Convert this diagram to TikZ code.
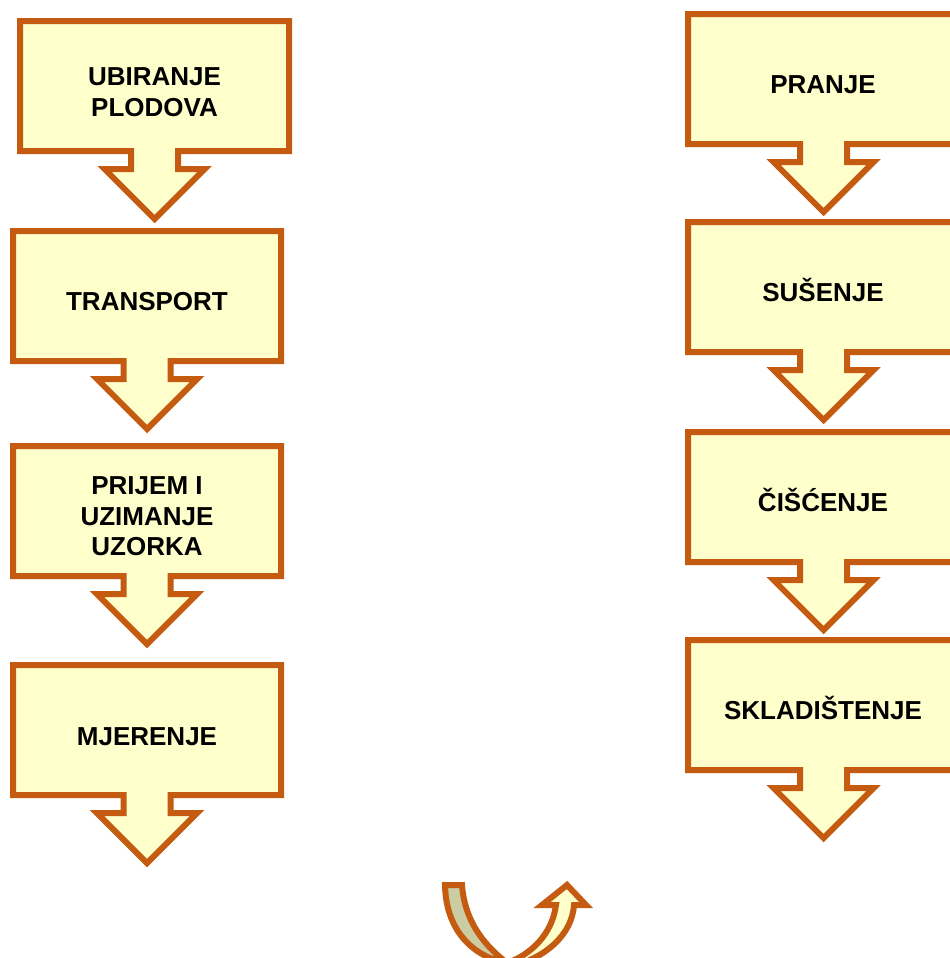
\documentclass[tikz,border=0pt]{standalone}
\usepackage{fontspec}
\setmainfont{Liberation Sans}

\definecolor{rust}{RGB}{197,90,17}
\definecolor{cream}{RGB}{255,255,204}
\definecolor{khaki}{RGB}{204,204,163}

\begin{document}
\begin{tikzpicture}[x=0.75pt,y=-0.75pt,
  stepshape/.style={draw=rust,fill=cream,line width=4.5pt},
  steptext/.style={font=\fontsize{19.5}{23}\selectfont\bfseries,align=center}]
  \useasboundingbox (0,0) rectangle (950,958);
  \clip (0,0) rectangle (950,958);

  % Left column of boxes
  \filldraw[stepshape] (20,21) -- (289,21) -- (289,151) -- (178,151) -- (178,169) -- (204.5,169) -- (154.5,219) -- (104.5,169) -- (131,169) -- (131,151) -- (20,151) -- cycle;
  \filldraw[stepshape] (13,231) -- (281,231) -- (281,361) -- (170.5,361) -- (170.5,379) -- (197,379) -- (147,429) -- (97,379) -- (123.5,379) -- (123.5,361) -- (13,361) -- cycle;
  \filldraw[stepshape] (13,446) -- (281,446) -- (281,576) -- (170.5,576) -- (170.5,594) -- (197,594) -- (147,644) -- (97,594) -- (123.5,594) -- (123.5,576) -- (13,576) -- cycle;
  \filldraw[stepshape] (13,665) -- (281,665) -- (281,795) -- (170.5,795) -- (170.5,813) -- (197,813) -- (147,863) -- (97,813) -- (123.5,813) -- (123.5,795) -- (13,795) -- cycle;

  \node[steptext] (ubiranje) at (154.5,92) {UBIRANJE\\PLODOVA};
  \node[steptext,anchor=base] (transport) at (147,310) {TRANSPORT};
  \node[steptext] (prijem) at (147,516.5) {PRIJEM I\\UZIMANJE\\UZORKA};
  \node[steptext,anchor=base] (mjerenje) at (147,745) {MJERENJE};

  % Right column of boxes
  \filldraw[stepshape] (688,14) -- (960,14) -- (960,144) -- (847,144) -- (847,162) -- (873.5,162) -- (823.5,212) -- (773.5,162) -- (800,162) -- (800,144) -- (688,144) -- cycle;
  \filldraw[stepshape] (688,222) -- (960,222) -- (960,352) -- (847,352) -- (847,370) -- (873.5,370) -- (823.5,420) -- (773.5,370) -- (800,370) -- (800,352) -- (688,352) -- cycle;
  \filldraw[stepshape] (688,432) -- (960,432) -- (960,562) -- (847,562) -- (847,580) -- (873.5,580) -- (823.5,630) -- (773.5,580) -- (800,580) -- (800,562) -- (688,562) -- cycle;
  \filldraw[stepshape] (688,640) -- (960,640) -- (960,770) -- (847,770) -- (847,788) -- (873.5,788) -- (823.5,838) -- (773.5,788) -- (800,788) -- (800,770) -- (688,770) -- cycle;

  \node[steptext,anchor=base] (pranje) at (823,93) {PRANJE};
  \node[steptext,anchor=base] (susenje) at (823,301) {SUŠENJE};
  \node[steptext,anchor=base] (ciscenje) at (823,511) {ČIŠĆENJE};
  \node[steptext,anchor=base] (skladistenje) at (823,719) {SKLADIŠTENJE};

  % Turn-over arrow at the bottom
  \filldraw[stepshape,fill=khaki] (445,885) .. controls (446,935) and (478,958) .. (507,963) .. controls (488,948) and (465,925) .. (462,885) -- cycle;
  \filldraw[stepshape] (507,963) .. controls (530,955) and (552,935) .. (556,905) -- (542,905) -- (567,885) -- (586,905) -- (574,905) .. controls (572,935) and (545,958) .. (512,966) -- cycle;
\end{tikzpicture}
\end{document}
